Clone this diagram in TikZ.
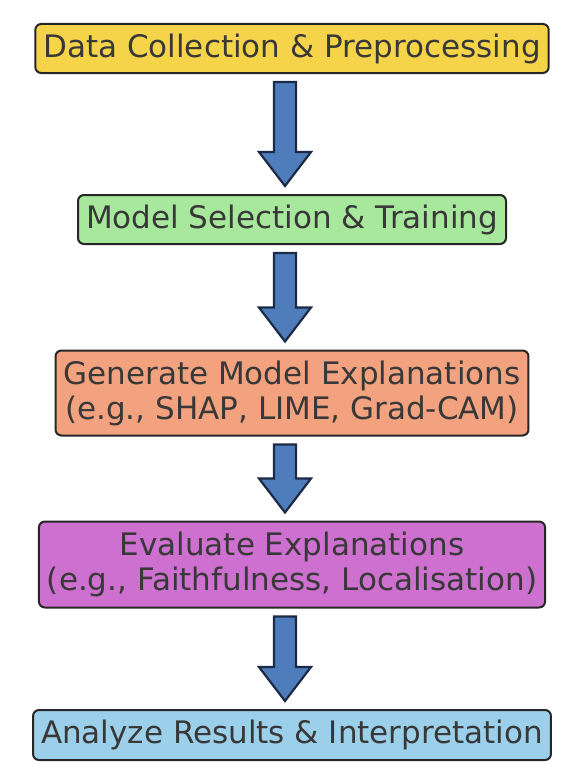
\documentclass[tikz,border=0pt]{standalone}
\usepackage{fontspec}
\setmainfont{DejaVu Sans}
\usetikzlibrary{calc}

\definecolor{boxyellow}{HTML}{F6D44A}
\definecolor{boxgreen}{HTML}{A8E89C}
\definecolor{boxorange}{HTML}{F2A27E}
\definecolor{boxpurple}{HTML}{CD70CF}
\definecolor{boxblue}{HTML}{9CD0EA}
\definecolor{arrowfill}{HTML}{4F7DBB}
\definecolor{arrowline}{HTML}{1C2B45}

\tikzset{
  stepbox/.style={draw=black!85, line width=2pt, rounded corners=6pt,
    align=center, inner xsep=8pt, inner ysep=0pt, text=black!78,
    font=\fontsize{31}{35}\selectfont},
  fatarrow/.style={draw=arrowline, fill=arrowfill, line width=2.2pt, line join=miter}
}

\begin{document}
\begin{tikzpicture}[x=1pt,y=1pt]
\useasboundingbox (0,0) rectangle (588,-776);

\node[stepbox, fill=boxyellow, minimum height=49pt] (data) at (292,-48.5)
  {Data Collection \& Preprocessing};
\node[stepbox, fill=boxgreen, minimum height=49pt] (model) at (292,-219.5)
  {Model Selection \& Training};
\node[stepbox, fill=boxorange, minimum height=85pt] (expl) at (292,-393)
  {Generate Model Explanations\\(e.g., SHAP, LIME, Grad-CAM)};
\node[stepbox, fill=boxpurple, minimum height=86pt] (eval) at (292,-564.5)
  {Evaluate Explanations\\(e.g., Faithfulness, Localisation)};
\node[stepbox, fill=boxblue, minimum height=50pt] (result) at (292,-735)
  {Analyze Results \& Interpretation};

% block arrows between the steps
\foreach \a/\b in {data/model, model/expl, expl/eval, eval/result}
  \draw[fatarrow]
    ($(\a.south)+(-18,-8)$) -- ($(\a.south |- \b.north)+(-18,42)$)
    -- ($(\a.south |- \b.north)+(-33,42)$) -- ($(\a.south |- \b.north)+(-7,8)$)
    -- ($(\a.south |- \b.north)+(19,42)$) -- ($(\a.south |- \b.north)+(4,42)$)
    -- ($(\a.south)+(4,-8)$) -- cycle;
\end{tikzpicture}
\end{document}
